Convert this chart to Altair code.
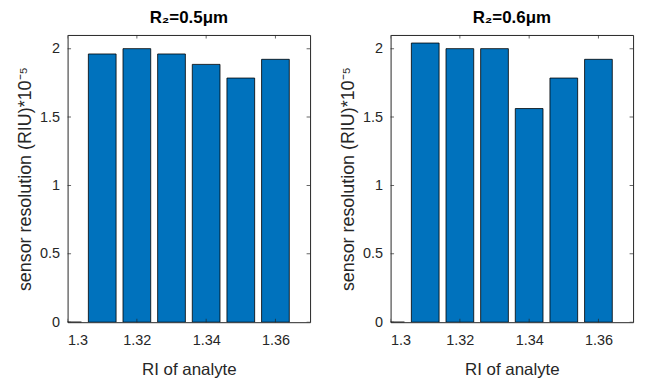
import altair as alt
import pandas as pd

# Refractive index of the analyte (bar centres)
ri = [1.30, 1.31, 1.32, 1.33, 1.34, 1.35, 1.36]
# Sensor resolution (RIU x 1e-5) for the two ring radii
res_r05 = [0.0, 1.961, 2.0, 1.961, 1.885, 1.785, 1.922]
res_r06 = [0.0, 2.041, 2.0, 2.0, 1.562, 1.785, 1.922]

panel_titles = ["R\u2082=0.5\u03bcm", "R\u2082=0.6\u03bcm"]
x_ticks = [1.30, 1.32, 1.34, 1.36]
y_ticks = [0, 0.5, 1, 1.5, 2]

FONT = "Liberation Sans"
BAR_COLOR = "#0072BD"
AXIS_COLOR = "#262626"
BAR_WIDTH = 0.008

x_scale = alt.Scale(domain=[1.30, 1.37], nice=False, zero=False)
y_scale = alt.Scale(domain=[0, 2.1], nice=False)

W, H = 244, 289


def panel(values, title):
    df = pd.DataFrame({"ri": ri, "res": values})
    bars = (
        alt.Chart(df)
        .transform_calculate(lo=f"datum.ri - {BAR_WIDTH / 2}", hi=f"datum.ri + {BAR_WIDTH / 2}")
        .mark_bar(color=BAR_COLOR, stroke="black", strokeWidth=0.8, clip=True)
        .encode(
            x=alt.X(
                "lo:Q",
                scale=x_scale,
                axis=alt.Axis(
                    values=x_ticks, format="~g", title="RI of analyte",
                    tickSize=0, labelPadding=11, titlePadding=15, titleFontSize=17,
                ),
            ),
            x2="hi:Q",
            y=alt.Y(
                "res:Q",
                scale=y_scale,
                axis=alt.Axis(
                    values=y_ticks, format="~g",
                    title="sensor resolution (RIU)*10\u207b\u2075",
                    tickSize=0, labelPadding=8, titlePadding=5, titleFontSize=18,
                ),
            ),
            y2=alt.datum(0),
        )
    )

    xt = pd.DataFrame({"v": x_ticks})
    yt = pd.DataFrame({"v": y_ticks})
    tick_x_bottom = alt.Chart(xt).mark_tick(
        orient="vertical", size=7, thickness=1, color=AXIS_COLOR, clip=True
    ).encode(x=alt.X("v:Q", scale=x_scale), y=alt.value(H))
    tick_x_top = alt.Chart(xt).mark_tick(
        orient="vertical", size=7, thickness=1, color=AXIS_COLOR, clip=True
    ).encode(x=alt.X("v:Q", scale=x_scale), y=alt.value(0))
    tick_y_left = alt.Chart(yt).mark_tick(
        orient="horizontal", size=7, thickness=1, color=AXIS_COLOR, clip=True
    ).encode(y=alt.Y("v:Q", scale=y_scale), x=alt.value(0))
    tick_y_right = alt.Chart(yt).mark_tick(
        orient="horizontal", size=7, thickness=1, color=AXIS_COLOR, clip=True
    ).encode(y=alt.Y("v:Q", scale=y_scale), x=alt.value(W))

    return alt.layer(
        bars, tick_x_bottom, tick_x_top, tick_y_left, tick_y_right
    ).properties(
        width=W,
        height=H,
        title=alt.TitleParams(title, fontSize=17, fontWeight="bold", font=FONT,
                              color="black", offset=8),
    )


chart = (
    alt.hconcat(panel(res_r05, panel_titles[0]), panel(res_r06, panel_titles[1]), spacing=28)
    .properties(
        padding={"left": 16, "top": 7, "right": 12, "bottom": 4},
        background="white",
    )
    .configure_view(stroke=AXIS_COLOR, strokeWidth=1)
    .configure_axis(
        grid=False, domain=False,
        labelFont=FONT, titleFont=FONT,
        labelFontSize=14.5,
        labelColor=AXIS_COLOR, titleColor=AXIS_COLOR,
        titleFontWeight="normal",
    )
)

chart.save("out.html", embed_options={"renderer": "svg", "actions": False})
